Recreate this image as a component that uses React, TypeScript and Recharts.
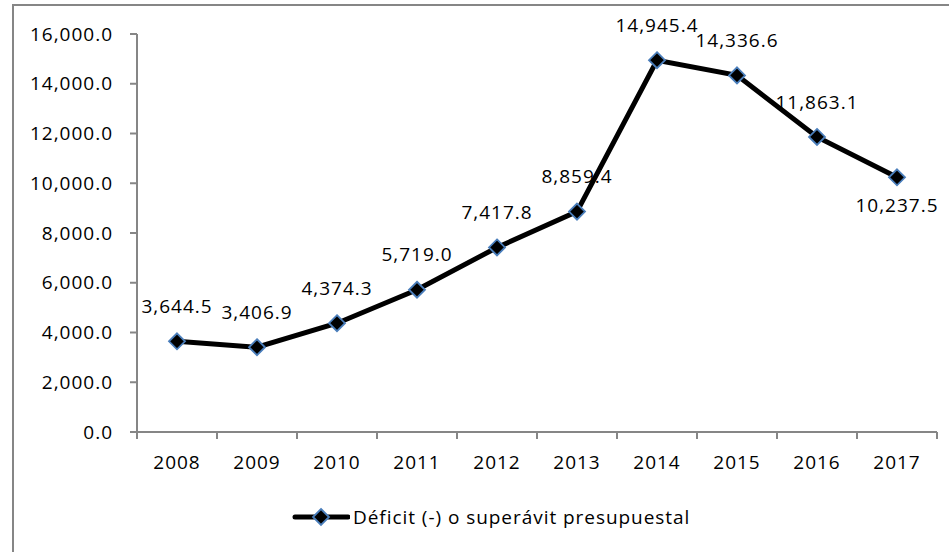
import React from "react";
import { LineChart, Line, XAxis, YAxis, LabelList, Legend } from "recharts";

const years = ["2008", "2009", "2010", "2011", "2012", "2013", "2014", "2015", "2016", "2017"];
const deficit = [3644.5, 3406.9, 4374.3, 5719.0, 7417.8, 8859.4, 14945.4, 14336.6, 11863.1, 10237.5];
const yTicks = [0, 2000, 4000, 6000, 8000, 10000, 12000, 14000, 16000];
const seriesName = "Déficit (-) o superávit presupuestal";

const data = years.map((year, i) => ({ year, value: deficit[i] }));

const FONT = "'Open Sans', Lato, sans-serif";
const FS = 19;
const LS = 1;
const AXIS = "#868686";
const MARKER = "#4A7EBB";
const PLOT_W = 800;
const fmt = (v: number) =>
  v.toLocaleString("en-US", { minimumFractionDigits: 1, maximumFractionDigits: 1 });

const Diamond = (props: any) => {
  const { cx, cy } = props;
  if (cx == null || cy == null) return null;
  const r = 8;
  return (
    <polygon
      points={`${cx},${cy - r} ${cx + r},${cy} ${cx},${cy + r} ${cx - r},${cy}`}
      fill="#000"
      stroke={MARKER}
      strokeWidth={1.8}
    />
  );
};

const XTick = (props: any) => {
  const { x, y, payload, index } = props;
  const half = PLOT_W / years.length / 2;
  return (
    <g>
      <line x1={x - half} y1={y} x2={x - half} y2={y + 7} stroke={AXIS} strokeWidth={2} />
      {index === years.length - 1 && (
        <line x1={x + half} y1={y} x2={x + half} y2={y + 7} stroke={AXIS} strokeWidth={2} />
      )}
      <text x={x} y={y + 30} dy="0.35em" textAnchor="middle" fontSize={FS} letterSpacing={LS} fontFamily={FONT} fill="#000">
        {payload.value}
      </text>
    </g>
  );
};

const PointLabel = (props: any) => {
  const { x, y, value, index } = props;
  const below = index === years.length - 1;
  return (
    <text
      x={x}
      y={below ? y + 28 : y - 35}
      dy="0.35em"
      textAnchor="middle"
      fontSize={FS}
      letterSpacing={LS}
      fontFamily={FONT}
      fill="#000"
    >
      {fmt(value)}
    </text>
  );
};

const LegendContent = () => (
  <div style={{ display: "flex", alignItems: "center", fontFamily: FONT, fontSize: FS, color: "#000" }}>
    <svg width={58} height={20} style={{ display: "block" }}>
      <line x1={3} y1={10} x2={56} y2={10} stroke="#000" strokeWidth={5} strokeLinecap="round" />
      <Diamond cx={29} cy={10} />
    </svg>
    <span style={{ marginLeft: 3, letterSpacing: 0.95, whiteSpace: "nowrap" }}>{seriesName}</span>
  </div>
);

export default function App() {
  return (
    <div style={{ position: "fixed", left: 0, top: 0, width: 949, height: 552, background: "#fff" }}>
      <div
        style={{
          position: "absolute",
          left: 12,
          top: 4,
          width: 960,
          height: 560,
          borderTop: `2px solid ${AXIS}`,
          borderLeft: `2px solid ${AXIS}`,
        }}
      />
      <div style={{ position: "absolute", left: 0, top: 0 }}>
        <LineChart width={949} height={552} data={data} margin={{ top: 34, right: 12, bottom: 90, left: 17 }}>
          <XAxis
            dataKey="year"
            height={30}
            padding={{ left: 40, right: 40 }}
            stroke={AXIS}
            axisLine={{ stroke: AXIS, strokeWidth: 2 }}
            tickLine={false}
            tickSize={0}
            tickMargin={0}
            tick={<XTick />}
            interval={0}
          />
          <YAxis
            width={120}
            domain={[0, 16000]}
            ticks={yTicks}
            interval={0}
            tickFormatter={fmt}
            axisLine={{ stroke: AXIS, strokeWidth: 2 }}
            tickLine={{ stroke: AXIS, strokeWidth: 2 }}
            tickSize={7}
            tickMargin={17}
            tick={{ fontSize: FS, fontFamily: FONT, fill: "#000", letterSpacing: LS }}
          />
          <Legend
            verticalAlign="middle"
            align="center"
            layout="horizontal"
            wrapperStyle={{ top: 504, left: 292, width: "auto" }}
            content={<LegendContent />}
          />
          <Line
            type="linear"
            dataKey="value"
            name={seriesName}
            stroke="#000"
            strokeWidth={5}
            dot={<Diamond />}
            activeDot={false}
            isAnimationActive={false}
          >
            <LabelList dataKey="value" content={<PointLabel />} />
          </Line>
        </LineChart>
      </div>
    </div>
  );
}
